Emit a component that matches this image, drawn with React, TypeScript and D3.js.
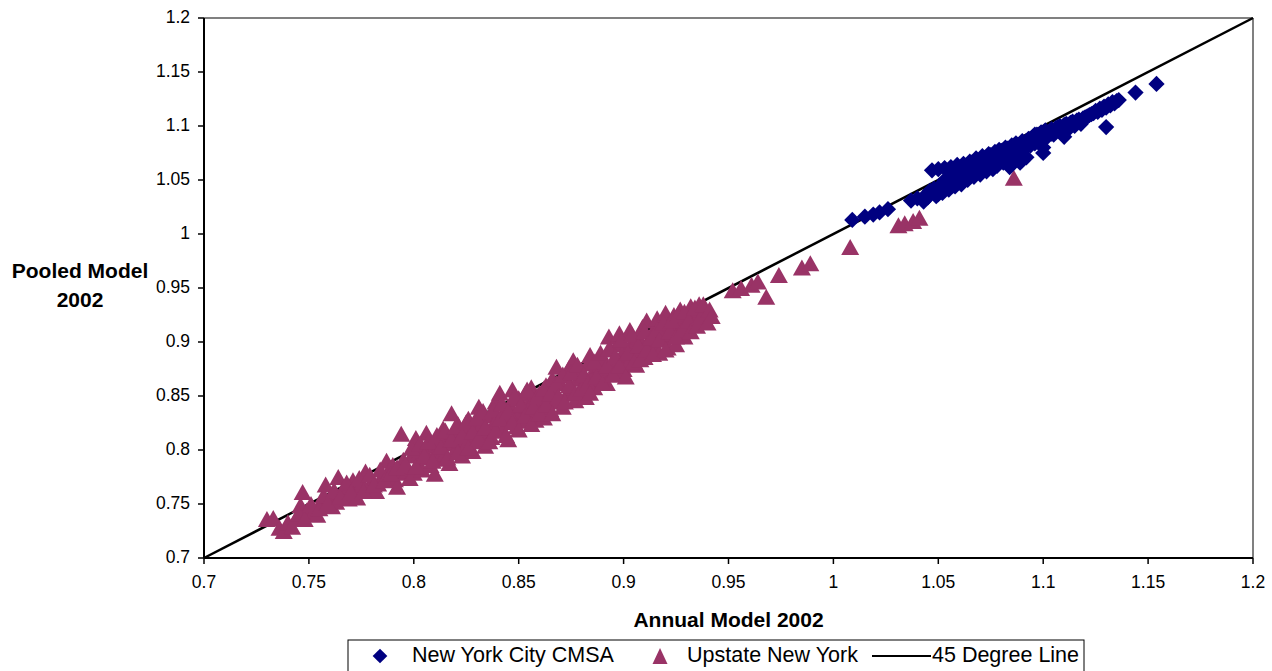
import * as d3 from "d3"

// Upstate New York (Annual Model 2002, Pooled Model 2002)
const upstateX = [
  0.730, 0.733, 0.736, 0.738, 0.740, 0.742, 0.744, 0.746, 0.747, 0.749, 0.752, 0.754, 0.756, 0.758, 0.760, 0.761,
  0.763, 0.764, 0.766, 0.767, 0.769, 0.771, 0.772, 0.773, 0.775, 0.777, 0.778, 0.780, 0.782, 0.783, 0.785, 0.787,
  0.788, 0.790, 0.791, 0.792, 0.793, 0.794, 0.795, 0.797, 0.798, 0.799, 0.800, 0.801, 0.802, 0.803, 0.804, 0.806,
  0.807, 0.808, 0.809, 0.810, 0.811, 0.812, 0.813, 0.814, 0.815, 0.816, 0.817, 0.818, 0.819, 0.820, 0.821, 0.822,
  0.823, 0.824, 0.825, 0.826, 0.827, 0.828, 0.829, 0.830, 0.831, 0.832, 0.833, 0.834, 0.835, 0.836, 0.837, 0.838,
  0.839, 0.840, 0.841, 0.842, 0.843, 0.844, 0.845, 0.846, 0.847, 0.848, 0.849, 0.850, 0.851, 0.852, 0.853, 0.854,
  0.855, 0.856, 0.857, 0.858, 0.859, 0.860, 0.861, 0.862, 0.863, 0.864, 0.865, 0.866, 0.867, 0.868, 0.869, 0.870,
  0.871, 0.872, 0.873, 0.874, 0.875, 0.876, 0.877, 0.878, 0.879, 0.880, 0.881, 0.882, 0.883, 0.884, 0.885, 0.886,
  0.887, 0.888, 0.889, 0.890, 0.891, 0.892, 0.893, 0.894, 0.895, 0.896, 0.897, 0.898, 0.899, 0.900, 0.901, 0.902,
  0.903, 0.904, 0.905, 0.906, 0.907, 0.908, 0.909, 0.910, 0.911, 0.912, 0.913, 0.914, 0.915, 0.916, 0.917, 0.918,
  0.919, 0.920, 0.921, 0.922, 0.923, 0.924, 0.925, 0.926, 0.927, 0.928, 0.929, 0.930, 0.931, 0.932, 0.933, 0.934,
  0.935, 0.936, 0.937, 0.938, 0.939, 0.940, 0.952, 0.956, 0.961, 0.964, 0.968, 0.974, 0.985, 0.989, 1.008, 1.031,
  1.034, 1.038, 1.041, 1.086,
  0.745, 0.748, 0.751, 0.755, 0.757, 0.759, 0.762, 0.765, 0.768, 0.770, 0.774, 0.776, 0.779, 0.781, 0.784, 0.786,
  0.789, 0.792, 0.796, 0.799, 0.801, 0.803, 0.805, 0.807, 0.809, 0.811, 0.813, 0.815, 0.816, 0.818, 0.820, 0.821,
  0.823, 0.825, 0.826, 0.828, 0.830, 0.831, 0.833, 0.834, 0.836, 0.838, 0.839, 0.841, 0.842, 0.844, 0.845, 0.847,
  0.848, 0.850, 0.851, 0.853, 0.854, 0.856, 0.857, 0.859, 0.860, 0.862, 0.863, 0.865, 0.866, 0.868, 0.869, 0.871,
  0.872, 0.874, 0.875, 0.877, 0.878, 0.880, 0.881, 0.883, 0.884, 0.886, 0.887, 0.889, 0.890, 0.892, 0.893, 0.895,
  0.896, 0.898, 0.899, 0.901, 0.902, 0.904, 0.905, 0.907, 0.908, 0.910, 0.911, 0.913, 0.914, 0.916, 0.917, 0.919,
  0.920, 0.922, 0.923, 0.925, 0.926, 0.928, 0.929, 0.931, 0.932, 0.934, 0.935, 0.937, 0.938, 0.940, 0.941, 0.942,
]
const upstateY = [
  0.736, 0.737, 0.728, 0.725, 0.733, 0.729, 0.737, 0.749, 0.761, 0.744, 0.742, 0.740, 0.753, 0.768, 0.756, 0.748,
  0.752, 0.775, 0.760, 0.766, 0.755, 0.772, 0.762, 0.756, 0.768, 0.780, 0.764, 0.771, 0.762, 0.769, 0.776, 0.790,
  0.781, 0.786, 0.773, 0.766, 0.779, 0.815, 0.791, 0.781, 0.774, 0.795, 0.779, 0.811, 0.788, 0.799, 0.782, 0.816,
  0.793, 0.786, 0.804, 0.778, 0.800, 0.792, 0.812, 0.820, 0.797, 0.806, 0.788, 0.834, 0.815, 0.801, 0.824, 0.809,
  0.795, 0.818, 0.805, 0.829, 0.812, 0.799, 0.822, 0.808, 0.840, 0.815, 0.826, 0.804, 0.818, 0.832, 0.812, 0.824,
  0.845, 0.830, 0.853, 0.818, 0.836, 0.826, 0.810, 0.842, 0.856, 0.831, 0.822, 0.848, 0.836, 0.827, 0.852, 0.841,
  0.832, 0.858, 0.846, 0.828, 0.838, 0.853, 0.844, 0.830, 0.860, 0.849, 0.838, 0.866, 0.855, 0.877, 0.845, 0.862,
  0.840, 0.869, 0.852, 0.876, 0.858, 0.883, 0.846, 0.866, 0.854, 0.874, 0.862, 0.849, 0.880, 0.888, 0.870, 0.858,
  0.878, 0.866, 0.879, 0.885, 0.872, 0.862, 0.905, 0.893, 0.880, 0.870, 0.898, 0.908, 0.886, 0.875, 0.895, 0.880,
  0.911, 0.900, 0.889, 0.879, 0.905, 0.893, 0.914, 0.886, 0.920, 0.902, 0.890, 0.910, 0.897, 0.922, 0.890, 0.915,
  0.904, 0.927, 0.895, 0.918, 0.908, 0.925, 0.898, 0.913, 0.930, 0.920, 0.905, 0.925, 0.912, 0.933, 0.918, 0.928,
  0.922, 0.935, 0.930, 0.925, 0.920, 0.927, 0.948, 0.950, 0.953, 0.956, 0.942, 0.962, 0.969, 0.973, 0.988, 1.008,
  1.010, 1.012, 1.015, 1.052,
  0.741, 0.736, 0.750, 0.746, 0.758, 0.751, 0.763, 0.757, 0.770, 0.761, 0.774, 0.762, 0.777, 0.768, 0.782, 0.772,
  0.778, 0.784, 0.787, 0.802, 0.785, 0.806, 0.795, 0.808, 0.790, 0.814, 0.803, 0.818, 0.793, 0.810, 0.822, 0.798,
  0.814, 0.826, 0.802, 0.817, 0.830, 0.811, 0.836, 0.821, 0.808, 0.838, 0.818, 0.829, 0.843, 0.814, 0.836, 0.826,
  0.850, 0.819, 0.842, 0.832, 0.856, 0.824, 0.840, 0.850, 0.834, 0.857, 0.842, 0.852, 0.834, 0.862, 0.850, 0.870,
  0.845, 0.860, 0.872, 0.853, 0.879, 0.857, 0.870, 0.862, 0.853, 0.882, 0.868, 0.890, 0.862, 0.878, 0.894, 0.870,
  0.887, 0.878, 0.902, 0.868, 0.890, 0.907, 0.882, 0.897, 0.884, 0.910, 0.893, 0.904, 0.889, 0.912, 0.902, 0.918,
  0.893, 0.910, 0.920, 0.905, 0.926, 0.912, 0.928, 0.920, 0.910, 0.932, 0.915, 0.924, 0.935, 0.918, 0.930, 0.924,
]

// New York City CMSA
const nycX = [
  1.009, 1.015, 1.019, 1.022, 1.026, 1.037, 1.040, 1.043, 1.044, 1.046, 1.047, 1.049, 1.050, 1.051, 1.052, 1.053,
  1.054, 1.055, 1.056, 1.057, 1.058, 1.059, 1.060, 1.061, 1.062, 1.063, 1.064, 1.065, 1.066, 1.067, 1.068, 1.069,
  1.070, 1.071, 1.072, 1.073, 1.074, 1.075, 1.076, 1.077, 1.078, 1.079, 1.080, 1.081, 1.082, 1.083, 1.084, 1.085,
  1.086, 1.087, 1.088, 1.089, 1.090, 1.091, 1.092, 1.093, 1.094, 1.095, 1.096, 1.097, 1.098, 1.099, 1.100, 1.100,
  1.101, 1.102, 1.104, 1.105, 1.107, 1.108, 1.110, 1.110, 1.112, 1.113, 1.115, 1.116, 1.118, 1.120, 1.122, 1.124,
  1.126, 1.128, 1.130, 1.130, 1.132, 1.134, 1.136, 1.144, 1.154,
  1.045, 1.048, 1.050, 1.053, 1.055, 1.057, 1.058, 1.060, 1.062, 1.063, 1.065, 1.066, 1.068, 1.069, 1.071, 1.072,
  1.074, 1.075, 1.077, 1.078, 1.080, 1.081, 1.083, 1.084, 1.086, 1.087, 1.089, 1.090, 1.092, 1.093, 1.095, 1.096,
  1.098, 1.099, 1.101, 1.103, 1.104, 1.106, 1.108, 1.109, 1.111, 1.114, 1.117, 1.119, 1.121, 1.123, 1.125, 1.127,
  1.129, 1.131, 1.133, 1.135,
]
const nycY = [
  1.013, 1.016, 1.018, 1.020, 1.023, 1.031, 1.033, 1.030, 1.036, 1.040, 1.059, 1.035, 1.060, 1.045, 1.038, 1.061,
  1.048, 1.041, 1.062, 1.052, 1.044, 1.064, 1.055, 1.046, 1.065, 1.058, 1.050, 1.067, 1.060, 1.053, 1.070, 1.062,
  1.055, 1.072, 1.065, 1.058, 1.074, 1.068, 1.060, 1.076, 1.063, 1.078, 1.070, 1.066, 1.080, 1.073, 1.062, 1.082,
  1.068, 1.084, 1.076, 1.066, 1.086, 1.079, 1.071, 1.088, 1.082, 1.090, 1.084, 1.092, 1.086, 1.094, 1.080, 1.075,
  1.096, 1.090, 1.097, 1.092, 1.099, 1.095, 1.090, 1.101, 1.097, 1.103, 1.100, 1.105, 1.102, 1.108, 1.110, 1.112,
  1.113, 1.115, 1.099, 1.117, 1.119, 1.121, 1.124, 1.131, 1.139,
  1.034, 1.042, 1.037, 1.050, 1.058, 1.045, 1.061, 1.050, 1.057, 1.063, 1.053, 1.066, 1.058, 1.068, 1.061, 1.070,
  1.063, 1.073, 1.067, 1.075, 1.077, 1.072, 1.079, 1.075, 1.081, 1.077, 1.083, 1.080, 1.086, 1.082, 1.087, 1.092,
  1.090, 1.088, 1.093, 1.095, 1.093, 1.098, 1.100, 1.098, 1.102, 1.104, 1.106, 1.107, 1.109, 1.111, 1.114, 1.116,
  1.118, 1.120, 1.122, 1.123,
]

const xTicks = [0.7, 0.75, 0.8, 0.85, 0.9, 0.95, 1, 1.05, 1.1, 1.15, 1.2]
const yTicks = [0.7, 0.75, 0.8, 0.85, 0.9, 0.95, 1, 1.05, 1.1, 1.15, 1.2]
const lineEnds = [0.7, 1.2]

const NAVY = "#000080"
const PLUM = "#993366"
const FONT = "'Liberation Sans', Arial, sans-serif"

const margin = { top: 18, right: 19, bottom: 113, left: 204 }
const W = 1272
const H = 671

// excel-like upward triangle, a bit taller than equilateral
const triPath = (w: number, h: number) => {
  const p = d3.path()
  p.moveTo(0, -h / 2)
  p.lineTo(w / 2, h / 2)
  p.lineTo(-w / 2, h / 2)
  p.closePath()
  return p.toString()
}

export default function App() {
  const xScale = d3.scaleLinear().domain([0.7, 1.2]).range([margin.left, W - margin.right])
  const yScale = d3.scaleLinear().domain([0.7, 1.2]).range([H - margin.bottom, margin.top])

  const [x0, x1] = xScale.range()
  const [y0, y1] = yScale.range()

  const diamond = d3.symbol(d3.symbolSquare, 132)() ?? ""
  const triangle = triPath(18, 16)
  const legendDiamond = d3.symbol(d3.symbolSquare, 108)() ?? ""
  const legendTriangle = triPath(15, 16)

  const upstate = upstateX.map((x, i) => ({ x, y: upstateY[i] }))
  const nyc = nycX.map((x, i) => ({ x, y: nycY[i] }))

  const fmt = (d: number) => String(d)

  return (
    <svg
      width={W}
      height={H}
      style={{ position: "absolute", left: 0, top: 0, background: "white" }}
      fontFamily={FONT}
    >
      {/* plot frame */}
      <line x1={x0} x2={x1} y1={y1} y2={y1} stroke="#808080" strokeWidth={2} />
      <line x1={x1} x2={x1} y1={y1} y2={y0} stroke="#808080" strokeWidth={2} />

      {/* 45 degree line */}
      <line
        x1={xScale(lineEnds[0])}
        y1={yScale(lineEnds[0])}
        x2={xScale(lineEnds[1])}
        y2={yScale(lineEnds[1])}
        stroke="black"
        strokeWidth={2.5}
      />

      {upstate.map((d, i) => (
        <path key={"u" + i} d={triangle} transform={`translate(${xScale(d.x)},${yScale(d.y)})`} fill={PLUM} />
      ))}
      {nyc.map((d, i) => (
        <path
          key={"n" + i}
          d={diamond}
          transform={`translate(${xScale(d.x)},${yScale(d.y)}) rotate(45)`}
          fill={NAVY}
        />
      ))}

      {/* axes */}
      <line x1={x0} x2={x0} y1={y1} y2={y0} stroke="black" strokeWidth={2} />
      <line x1={x0} x2={x1} y1={y0} y2={y0} stroke="black" strokeWidth={2} />
      {yTicks.map((d, i) => (
        <g key={"yt" + i}>
          <line x1={x0 - 6} x2={x0} y1={yScale(d)} y2={yScale(d)} stroke="black" strokeWidth={1.5} />
          <text x={x0 - 14} y={yScale(d)} textAnchor="end" dominantBaseline="middle" fontSize={17.5}>
            {fmt(d)}
          </text>
        </g>
      ))}
      {xTicks.map((d, i) => (
        <g key={"xt" + i}>
          <line x1={xScale(d)} x2={xScale(d)} y1={y0} y2={y0 + 6} stroke="black" strokeWidth={1.5} />
          <text x={xScale(d)} y={y0 + 25} textAnchor="middle" dominantBaseline="middle" fontSize={17.5}>
            {fmt(d)}
          </text>
        </g>
      ))}

      {/* axis titles */}
      <text x={(x0 + x1) / 2} y={621} textAnchor="middle" dominantBaseline="middle" fontSize={21} fontWeight="bold">
        Annual Model 2002
      </text>
      <text x={80} y={272} textAnchor="middle" dominantBaseline="middle" fontSize={21} fontWeight="bold">
        Pooled Model
      </text>
      <text x={80} y={301} textAnchor="middle" dominantBaseline="middle" fontSize={21} fontWeight="bold">
        2002
      </text>

      {/* legend */}
      <rect x={348} y={640} width={736} height={40} fill="white" stroke="black" strokeWidth={1} />
      <path d={legendDiamond} transform="translate(380,656) rotate(45)" fill={NAVY} />
      <text x={412} y={656} dominantBaseline="middle" fontSize={21.5}>
        New York City CMSA
      </text>
      <path d={legendTriangle} transform="translate(660,656)" fill={PLUM} />
      <text x={687} y={656} dominantBaseline="middle" fontSize={21.5}>
        Upstate New York
      </text>
      <line x1={872} x2={931} y1={656} y2={656} stroke="black" strokeWidth={2} />
      <text x={932} y={656} dominantBaseline="middle" fontSize={21.5}>
        45 Degree Line
      </text>
    </svg>
  )
}
